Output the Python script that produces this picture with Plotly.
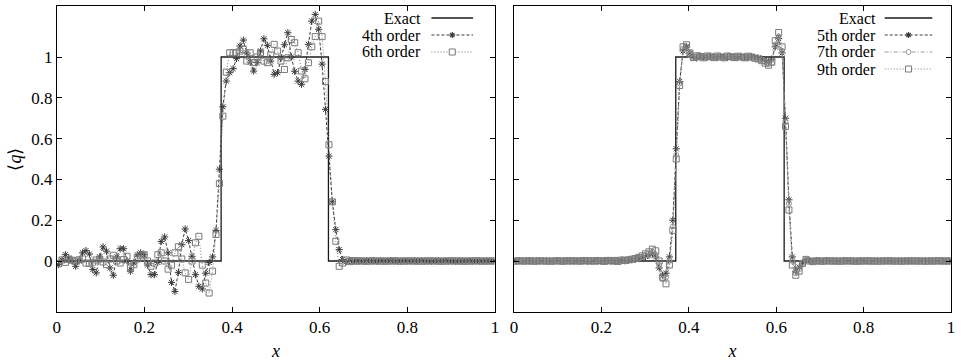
import plotly.graph_objects as go

N = 128
XC = [(i + 0.5) / N for i in range(N)]

# Exact solution (square wave)
EXACT_X_L = [0.0, 0.375, 0.375, 0.62, 0.62, 1.0]
EXACT_X_R = [0.0, 0.37, 0.37, 0.618, 0.618, 1.0]
EXACT_Y = [0, 0, 1, 1, 0, 0]

# Left panel: 4th and 6th order
L4 = [-0.018, 0.005, 0.031, 0.015, 0.0, -0.026, 0.0, 0.04, 0.051, 0.034, -0.042, -0.058, 0.02, 0.069, 0.048, -0.034,
      -0.07, 0.02, 0.06, 0.06, 0.0, -0.05, -0.01, 0.03, 0.04, 0.031, -0.02, -0.067, -0.067, -0.007, 0.096, 0.118,
      0.04, -0.105, -0.149, -0.056, 0.08, 0.157, 0.1, 0.023, -0.067, -0.124, -0.137, -0.06, -0.007, 0.02, 0.15, 0.45,
      0.756, 0.882, 0.923, 0.943, 0.992, 1.054, 1.083, 1.02, 0.975, 0.931, 0.972, 1.03, 1.089, 1.057, 0.98, 0.915,
      0.923, 0.996, 1.06, 1.119, 1.0, 0.93, 0.882, 0.866, 0.939, 1.062, 1.176, 1.209, 1.136, 0.965, 0.743, 0.514,
      0.29, 0.154, 0.056, 0.007, -0.004, 0.003, -0.002, 0.001, 0.0, -0.001, 0.001, 0.0, 0.0, -0.001, 0.001, 0.0,
      0.0, 0.001, -0.001, 0.0, 0.0, 0.001, 0.0, -0.001, 0.0, 0.0, 0.001, 0.0, 0.0, -0.001, 0.0, 0.0,
      0.0, 0.001, 0.0, 0.0, -0.001, 0.0, 0.0, 0.0, 0.001, 0.0, 0.0, 0.0, -0.001, 0.0, 0.0, 0.0]

L6 = [-0.013, 0.005, -0.007, 0.008, 0.004, 0.0, 0.006, 0.01, -0.01, -0.012, -0.006, 0.005, 0.01, -0.005, -0.018, 0.01,
      0.028, 0.0, -0.01, 0.007, 0.023, -0.034, -0.018, 0.01, 0.025, 0.031, 0.0, -0.026, -0.01, 0.031, 0.04, 0.0,
      -0.04, -0.02, 0.04, 0.07, 0.01, -0.058, -0.09, 0.0, 0.089, 0.121, -0.02, -0.108, -0.157, -0.05, 0.13, 0.38,
      0.71, 0.926, 1.021, 1.021, 1.02, 1.029, 1.037, 0.98, 1.021, 0.972, 1.0, 1.021, 0.98, 0.972, 1.01, 1.062,
      1.029, 0.98, 0.939, 0.996, 1.086, 1.07, 1.021, 0.931, 0.893, 0.972, 1.05, 1.1, 1.176, 1.1, 0.88, 0.57,
      0.29, 0.097, -0.026, -0.01, 0.005, -0.003, 0.002, -0.001, 0.001, 0.0, -0.001, 0.0, 0.001, 0.0, 0.0, -0.001,
      0.0, 0.0, 0.001, 0.0, -0.001, 0.0, 0.0, 0.001, 0.0, 0.0, -0.001, 0.0, 0.0, 0.001, 0.0, 0.0,
      -0.001, 0.0, 0.0, 0.001, 0.0, 0.0, 0.0, -0.001, 0.0, 0.0, 0.001, 0.0, 0.0, 0.0, 0.0, 0.0]

# Right panel: 5th, 7th and 9th order
R5 = [0.0, 0.001, -0.001, 0.0, 0.001, 0.0, -0.001, 0.0, 0.001, 0.0, 0.0, -0.001, 0.001, 0.0, 0.0, 0.001,
      0.0, -0.001, 0.001, 0.0, 0.001, -0.001, 0.0, 0.001, 0.0, -0.002, 0.001, 0.002, 0.0, -0.002, 0.002, 0.003,
      0.001, 0.004, 0.006, 0.008, 0.012, 0.016, 0.022, 0.028, 0.035, 0.02, -0.034, -0.07, -0.06, 0.02, 0.2, 0.55,
      0.88, 1.03, 1.05, 1.02, 1.0, 0.995, 1.005, 1.0, 0.998, 1.004, 1.0, 0.997, 1.003, 1.0, 0.998, 1.002,
      1.0, 0.997, 1.003, 1.0, 0.996, 1.002, 0.998, 0.995, 0.99, 0.985, 0.975, 0.99, 1.05, 1.09, 1.02, 0.7,
      0.3, 0.02, -0.05, -0.03, -0.01, 0.005, 0.002, -0.002, 0.001, 0.0, -0.001, 0.001, 0.0, 0.0, -0.001, 0.0,
      0.001, 0.0, 0.0, -0.001, 0.0, 0.001, 0.0, 0.0, -0.001, 0.0, 0.0, 0.001, 0.0, 0.0, 0.0, -0.001,
      0.0, 0.0, 0.001, 0.0, 0.0, -0.001, 0.0, 0.0, 0.0, 0.001, 0.0, 0.0, 0.0, 0.0, -0.001, 0.0]

R7 = [0.001, 0.0, 0.0, -0.001, 0.0, 0.001, 0.0, 0.0, -0.001, 0.001, 0.0, 0.0, 0.0, -0.001, 0.001, 0.0,
      0.001, 0.0, -0.001, 0.001, 0.0, 0.0, -0.002, 0.0, 0.002, 0.0, -0.001, 0.001, 0.003, 0.0, -0.002, 0.004,
      0.002, 0.003, 0.007, 0.009, 0.012, 0.02, 0.028, 0.036, 0.045, 0.03, -0.02, -0.09, -0.08, 0.0, 0.17, 0.52,
      0.87, 1.04, 1.05, 1.01, 0.995, 1.004, 1.0, 0.997, 1.004, 1.0, 0.998, 1.003, 1.0, 0.997, 1.004, 1.0,
      0.998, 1.003, 1.0, 0.996, 1.003, 1.0, 0.995, 0.992, 0.985, 0.975, 0.965, 0.97, 1.06, 1.1, 1.03, 0.68,
      0.28, 0.0, -0.06, -0.04, -0.01, 0.006, 0.0, -0.002, 0.001, 0.0, 0.0, -0.001, 0.001, 0.0, 0.0, 0.0,
      -0.001, 0.0, 0.001, 0.0, 0.0, 0.0, -0.001, 0.0, 0.001, 0.0, 0.0, 0.0, 0.0, -0.001, 0.0, 0.0,
      0.001, 0.0, 0.0, 0.0, -0.001, 0.0, 0.0, 0.001, 0.0, 0.0, 0.0, 0.0, 0.0, 0.0, 0.0, 0.0]

R9 = [-0.001, 0.001, 0.0, 0.0, 0.001, -0.001, 0.0, 0.001, 0.0, 0.0, -0.001, 0.0, 0.001, 0.0, -0.001, 0.001,
      0.0, 0.001, 0.0, -0.001, 0.002, 0.0, 0.001, -0.001, 0.002, 0.001, -0.002, 0.003, 0.0, 0.003, -0.002, 0.005,
      0.003, 0.006, 0.009, 0.012, 0.018, 0.025, 0.035, 0.045, 0.058, 0.05, 0.0, -0.08, -0.112, -0.02, 0.15, 0.5,
      0.86, 1.05, 1.06, 1.02, 0.997, 1.006, 1.002, 0.996, 1.005, 1.001, 0.997, 1.005, 1.0, 0.996, 1.005, 1.001,
      0.997, 1.004, 1.0, 0.996, 1.004, 1.0, 0.994, 0.99, 0.982, 0.97, 0.96, 0.975, 1.08, 1.12, 1.05, 0.66,
      0.25, -0.02, -0.07, -0.05, -0.012, 0.008, 0.0, -0.003, 0.001, 0.0, -0.001, 0.001, 0.0, 0.0, 0.0, -0.001,
      0.0, 0.001, 0.0, 0.0, -0.001, 0.0, 0.0, 0.001, 0.0, 0.0, -0.001, 0.0, 0.0, 0.001, 0.0, 0.0,
      0.0, -0.001, 0.0, 0.0, 0.001, 0.0, 0.0, 0.0, -0.001, 0.0, 0.0, 0.0, 0.001, 0.0, 0.0, 0.0]

X_TICKS = [0, 0.2, 0.4, 0.6, 0.8, 1]
X_TICK_TEXT = ["0", "0.2", "0.4", "0.6", "0.8", "1"]
Y_TICKS = [0, 0.2, 0.4, 0.6, 0.8, 1]
Y_TICK_TEXT = ["0", "0.2", "0.4", "0.6", "0.8", "1"]

LEFT_LABELS = ["Exact", "4th order", "6th order"]
RIGHT_LABELS = ["Exact", "5th order", "7th order", "9th order"]

FONT = "Liberation Serif"
FS = 17
KEY_FS = 16
EXACT_C = "#1a1a1a"
DARK = "#3a3a3a"
MID = "#7a7a7a"
LIGHT = "#9a9a9a"
W, H = 969, 364

STYLE = {
    "exact": dict(color=EXACT_C, dash="solid", symbol=None, width=1.3),
    "o4": dict(color=DARK, dash="3px,2px", symbol="asterisk-open", width=1),
    "o6": dict(color=MID, dash="1px,2px", symbol="square-open", width=1),
    "o7": dict(color=LIGHT, dash="4px,2px,1px,2px", symbol="circle-open", width=1),
}

fig = go.Figure()


def add_series(x, y, name, style, xa, ya):
    st = STYLE[style]
    if st["symbol"] is None:
        fig.add_trace(go.Scatter(x=x, y=y, mode="lines", name=name, showlegend=False,
                                 line=dict(color=st["color"], width=st["width"]), xaxis=xa, yaxis=ya))
    else:
        fig.add_trace(go.Scatter(x=x, y=y, mode="lines+markers", name=name, showlegend=False,
                                 line=dict(color=st["color"], width=st["width"], dash=st["dash"]),
                                 marker=dict(symbol=st["symbol"], size=6 if st["symbol"] != "circle-open" else 5,
                                             color=st["color"], line=dict(color=st["color"], width=1)),
                                 xaxis=xa, yaxis=ya))


add_series(EXACT_X_L, EXACT_Y, LEFT_LABELS[0], "exact", "x", "y")
add_series(XC, L4, LEFT_LABELS[1], "o4", "x", "y")
add_series(XC, L6, LEFT_LABELS[2], "o6", "x", "y")
add_series(EXACT_X_R, EXACT_Y, RIGHT_LABELS[0], "exact", "x2", "y2")
add_series(XC, R5, RIGHT_LABELS[1], "o4", "x2", "y2")
add_series(XC, R7, RIGHT_LABELS[2], "o7", "x2", "y2")
add_series(XC, R9, RIGHT_LABELS[3], "o6", "x2", "y2")

# gnuplot-style key: right-aligned text followed by a line sample
annotations = []
shapes = []


def key(labels, styles, text_right_px, line_x0_px, line_x1_px, y0_px, dy_px):
    for k, (lab, sty) in enumerate(zip(labels, styles)):
        st = STYLE[sty]
        ypx = y0_px + k * dy_px
        yp = 1 - ypx / H
        annotations.append(dict(text=lab, x=text_right_px / W, y=yp, xref="paper", yref="paper",
                                xanchor="right", yanchor="middle", showarrow=False, borderpad=0,
                                font=dict(family=FONT, size=KEY_FS, color="black")))
        shapes.append(dict(type="line", xref="paper", yref="paper",
                           x0=line_x0_px / W, x1=line_x1_px / W, y0=yp, y1=yp,
                           line=dict(color=st["color"], width=st["width"], dash=st["dash"])))
        xm = (line_x0_px + line_x1_px) / 2 / W
        if st["symbol"] == "square-open":
            shapes.append(dict(type="rect", xref="paper", yref="paper", xsizemode="pixel", ysizemode="pixel",
                               xanchor=xm, yanchor=yp, x0=-3, x1=3, y0=-3, y1=3,
                               fillcolor="white", line=dict(color=st["color"], width=1)))
        elif st["symbol"] == "circle-open":
            shapes.append(dict(type="circle", xref="paper", yref="paper", xsizemode="pixel", ysizemode="pixel",
                               xanchor=xm, yanchor=yp, x0=-2.5, x1=2.5, y0=-2.5, y1=2.5,
                               fillcolor="white", line=dict(color=st["color"], width=1)))
        elif st["symbol"] == "asterisk-open":
            shapes.append(dict(type="path", xref="paper", yref="paper", xsizemode="pixel", ysizemode="pixel",
                               xanchor=xm, yanchor=yp,
                               path="M-3,0L3,0M0,-3L0,3M-2.2,-2.2L2.2,2.2M-2.2,2.2L2.2,-2.2",
                               line=dict(color=st["color"], width=1.1)))


key(LEFT_LABELS, ["exact", "o4", "o6"], 421, 431, 473, 18, 17)
key(RIGHT_LABELS, ["exact", "o4", "o7", "o6"], 880, 888, 936, 18, 17)

axis_common = dict(showline=True, linecolor="black", linewidth=1, mirror="allticks",
                   ticks="inside", ticklen=5, tickcolor="black", tickwidth=1,
                   showgrid=False, zeroline=False,
                   tickfont=dict(family=FONT, size=FS, color="black"))

xdom_l = [53.3 / W, 495 / W]
xdom_r = [514.3 / W, 955 / W]
ydom = [1 - 312 / H, 1 - 6 / H]

fig.update_layout(
    width=W, height=H,
    margin=dict(l=0, r=0, t=0, b=0),
    paper_bgcolor="white", plot_bgcolor="white",
    font=dict(family=FONT, size=FS, color="black"),
    showlegend=False,
    xaxis=dict(domain=xdom_l, range=[0, 1], tickvals=X_TICKS, ticktext=X_TICK_TEXT,
               title=dict(text="<i>x</i>", standoff=7, font=dict(family=FONT, size=18)),
               anchor="y", **axis_common),
    yaxis=dict(domain=ydom, range=[-0.25, 1.25], tickvals=Y_TICKS, ticktext=Y_TICK_TEXT,
               title=dict(text="⟨<i>q</i>⟩", standoff=4, font=dict(family=FONT, size=18)),
               anchor="x", **axis_common),
    xaxis2=dict(domain=xdom_r, range=[0, 1], tickvals=X_TICKS, ticktext=X_TICK_TEXT,
                title=dict(text="<i>x</i>", standoff=7, font=dict(family=FONT, size=18)),
                anchor="y2", **axis_common),
    yaxis2=dict(domain=ydom, range=[-0.25, 1.25], tickvals=Y_TICKS, showticklabels=False,
                anchor="x2", **axis_common),
    annotations=annotations,
    shapes=shapes,
)

fig.write_html("out.html")
